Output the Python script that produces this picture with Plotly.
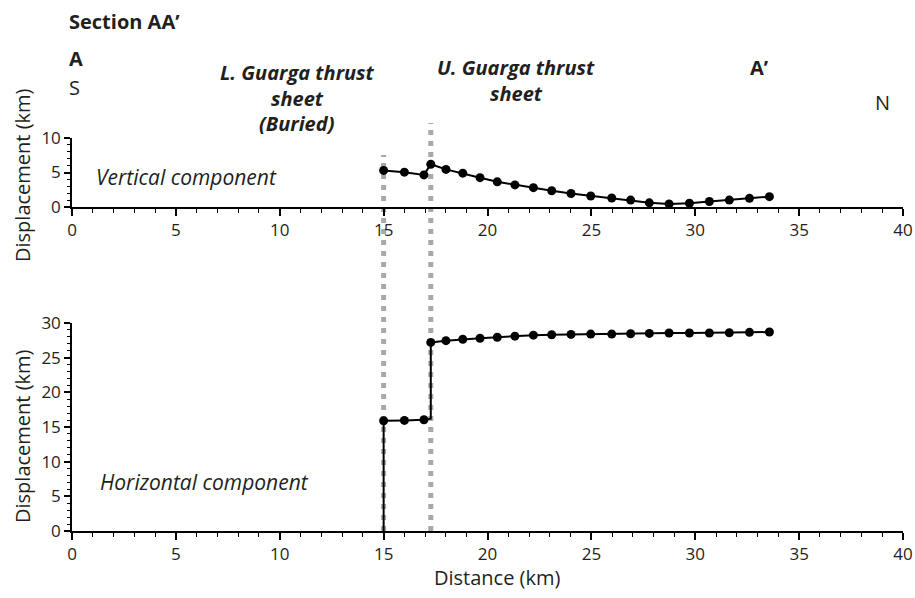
import plotly.graph_objects as go

# ---------------- data ----------------
vert_x = [15.0, 16.0, 16.94, 17.27, 18.0, 18.81, 19.64, 20.47, 21.32, 22.21, 23.09,
          24.02, 24.97, 25.98, 26.89, 27.79, 28.74, 29.72, 30.68, 31.64, 32.61, 33.57]
vert_y = [5.3, 5.05, 4.65, 6.2, 5.45, 4.9, 4.25, 3.65, 3.2, 2.8, 2.35,
          1.95, 1.6, 1.3, 1.0, 0.6, 0.45, 0.55, 0.8, 1.0, 1.25, 1.5]

horiz_x = [15.0, 16.0, 16.94, 17.27, 18.0, 18.81, 19.64, 20.47, 21.32, 22.21, 23.09,
           24.02, 24.97, 25.98, 26.89, 27.79, 28.74, 29.72, 30.68, 31.64, 32.61, 33.57]
horiz_y = [15.9, 15.95, 16.05, 27.2, 27.45, 27.65, 27.8, 27.95, 28.1, 28.25, 28.3,
           28.35, 28.4, 28.4, 28.45, 28.5, 28.55, 28.55, 28.55, 28.6, 28.65, 28.7]

# step connectors of the horizontal profile (fault offsets)
step_start = (15.0, 0.0)      # base of the lower thrust step
step_mid = (17.27, 16.2)      # foot of the upper thrust step

fault_x = [15.0, 17.27]       # thrust positions (grey dotted lines)

x_ticks = [0, 5, 10, 15, 20, 25, 30, 35, 40]
top_y_ticks = [0, 5, 10]
bot_y_ticks = [0, 5, 10, 15, 20, 25, 30]

# ---------------- layout helpers ----------------
W, H = 915, 598
FONT = "Open Sans"
TXT = "#231f20"

def px(x):
    return x / W

def py(y):
    return 1 - y / H

X0, X1 = 72, 903
TOP0, TOP1 = 207, 138
BOT0, BOT1 = 531, 323

fig = go.Figure()

# vertical component
fig.add_trace(go.Scatter(x=vert_x, y=vert_y, mode="lines+markers",
                         line=dict(color="black", width=2),
                         marker=dict(color="black", size=9),
                         cliponaxis=False, xaxis="x", yaxis="y", showlegend=False))

# horizontal component
line_x = [step_start[0]] + horiz_x[:3] + [step_mid[0]] + horiz_x[3:]
line_y = [step_start[1]] + horiz_y[:3] + [step_mid[1]] + horiz_y[3:]
fig.add_trace(go.Scatter(x=line_x, y=line_y, mode="lines",
                         line=dict(color="black", width=2),
                         cliponaxis=False, xaxis="x2", yaxis="y2", showlegend=False))
fig.add_trace(go.Scatter(x=horiz_x, y=horiz_y, mode="markers",
                         marker=dict(color="black", size=9),
                         cliponaxis=False, xaxis="x2", yaxis="y2", showlegend=False))

axis_common = dict(showgrid=False, zeroline=False, showline=True, linecolor="black",
                   ticks="outside", tickcolor="black", automargin=False,
                   tickfont=dict(family=FONT, size=17, color=TXT))

fig.update_layout(
    width=W, height=H,
    margin=dict(l=0, r=0, t=0, b=0),
    paper_bgcolor="white", plot_bgcolor="white",
    font=dict(family=FONT, color=TXT),
    xaxis=dict(domain=[px(X0), px(X1)], range=[0, 40], anchor="y",
               tickvals=x_ticks, ticklen=7, tickwidth=1.5, linewidth=2,
               minor=dict(dtick=1, ticklen=4, ticks="outside", tickcolor="black", tickwidth=1),
               **axis_common),
    yaxis=dict(domain=[py(TOP0), py(TOP1)], range=[0, 10], anchor="x",
               tickvals=top_y_ticks, ticklen=6, tickwidth=1.5, linewidth=1.5,
               minor=dict(dtick=1, ticklen=3, ticks="outside", tickcolor="black", tickwidth=1),
               **axis_common),
    xaxis2=dict(domain=[px(X0), px(X1)], range=[0, 40], anchor="y2",
                tickvals=x_ticks, ticklen=7, tickwidth=1.5, linewidth=2,
                minor=dict(dtick=1, ticklen=4, ticks="outside", tickcolor="black", tickwidth=1),
                **axis_common),
    yaxis2=dict(domain=[py(BOT0), py(BOT1)], range=[0, 30], anchor="x2",
                tickvals=bot_y_ticks, ticklen=6, tickwidth=1.5, linewidth=1.5,
                minor=dict(dtick=1, ticklen=3, ticks="outside", tickcolor="black", tickwidth=1),
                **axis_common),
)

# grey dotted fault lines spanning both panels
fault_tops = [155, 123]
for fx, ftop in zip(fault_x, fault_tops):
    fig.add_shape(type="line", xref="x", yref="paper", x0=fx, x1=fx,
                  y0=py(BOT0), y1=py(ftop), layer="below",
                  line=dict(color="#a8a8a8", width=5, dash="5px,6px"))

def text(s, x, y, size=20, bold=False, italic=False, xanchor="left", angle=0):
    t = s
    if bold:
        t = "<b>" + t + "</b>"
    if italic:
        t = "<i>" + t + "</i>"
    fig.add_annotation(text=t, x=px(x), y=py(y), xref="paper", yref="paper",
                       xanchor=xanchor, yanchor="middle", showarrow=False,
                       textangle=angle,
                       font=dict(family=FONT, size=size, color=TXT))

text("Section AA\u2019", 67, 22, bold=True)
text("A", 67, 58, bold=True)
text("S", 67, 87)
text("L. Guarga thrust", 297, 72, bold=True, italic=True, xanchor="center")
text("sheet", 297, 98, bold=True, italic=True, xanchor="center")
text("(Buried)", 297, 124, bold=True, italic=True, xanchor="center")
text("U. Guarga thrust", 516, 67, bold=True, italic=True, xanchor="center")
text("sheet", 516, 93, bold=True, italic=True, xanchor="center")
text("A\u2019", 748, 67, bold=True)
text("N", 873, 102)
text("Vertical component", 94, 177, size=21, italic=True)
text("Horizontal component", 98, 482, size=21, italic=True)
text("Displacement (km)", 22, 175, xanchor="center", angle=-90)
text("Displacement (km)", 22, 436, xanchor="center", angle=-90)
text("Distance (km)", 497, 577, xanchor="center")

fig.write_html("out.html")
